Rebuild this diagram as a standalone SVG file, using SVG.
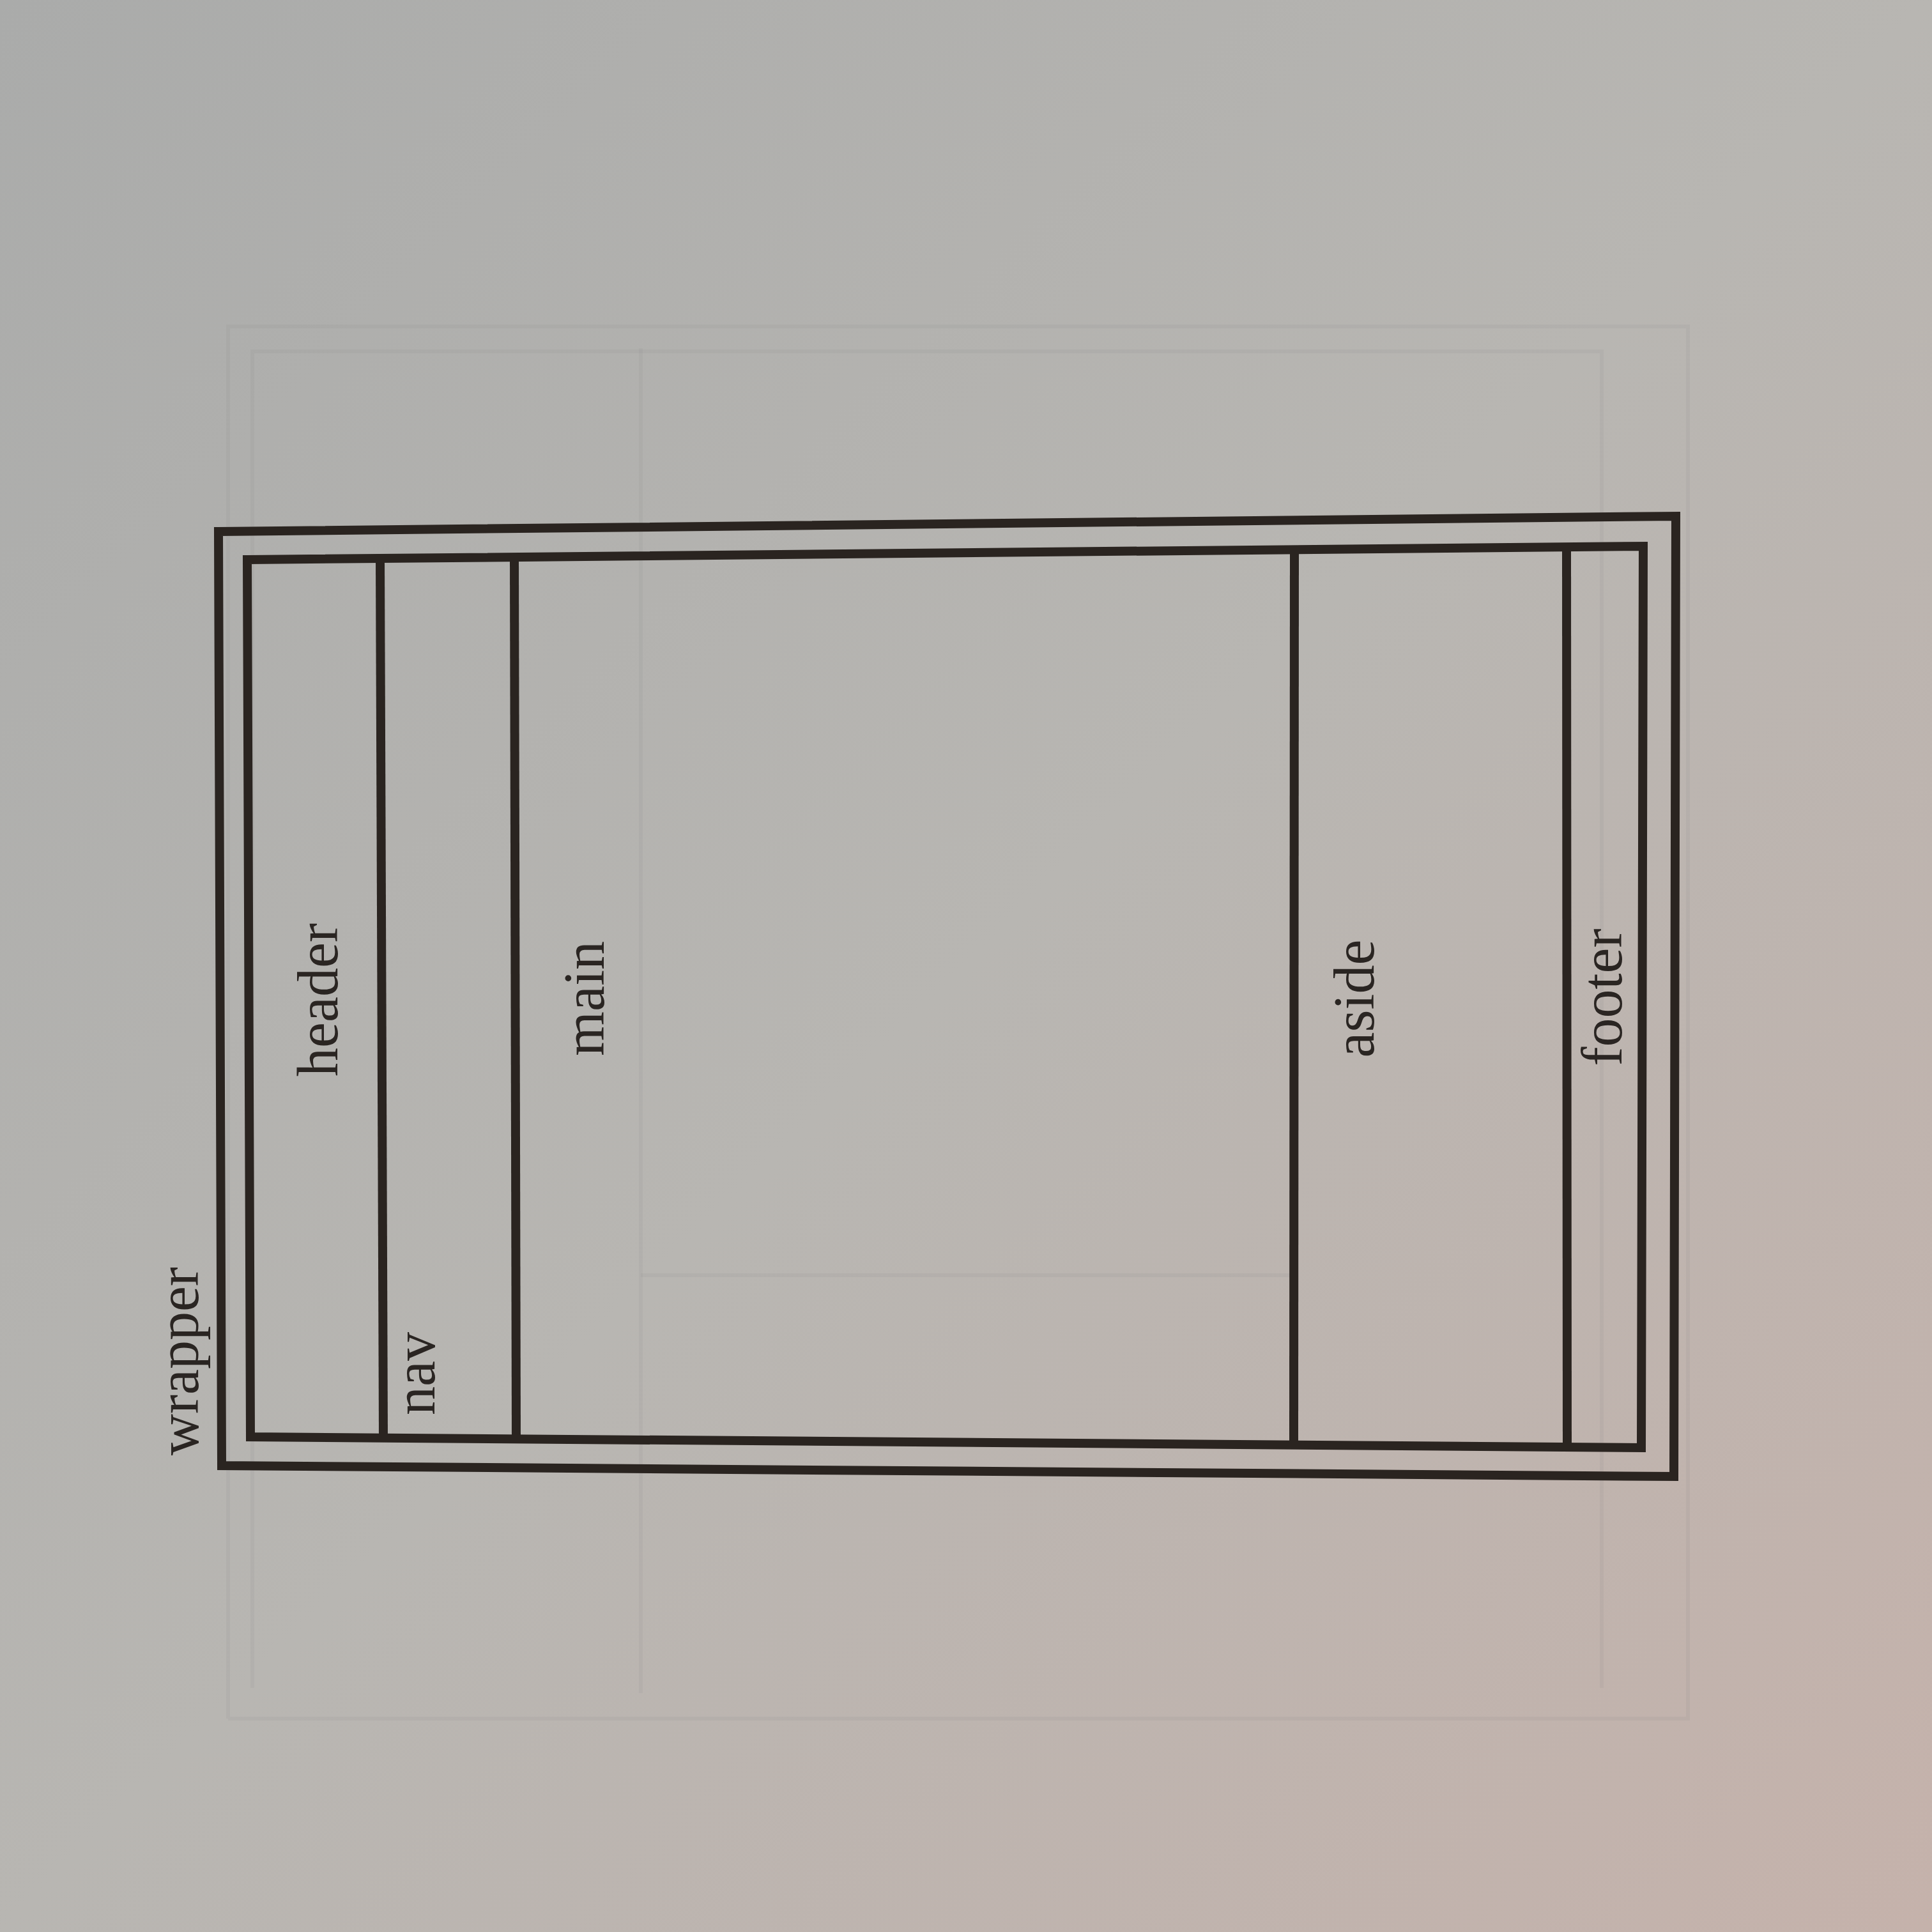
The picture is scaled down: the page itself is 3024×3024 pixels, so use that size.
<svg xmlns="http://www.w3.org/2000/svg" width="3024" height="3024" viewBox="0 0 3024 3024">
  <defs>
    <linearGradient id="paper" x1="0" y1="0" x2="1" y2="1">
      <stop offset="0" stop-color="#aaabaa"/>
      <stop offset="0.5" stop-color="#b8b6b2"/>
      <stop offset="1" stop-color="#c5b2ab"/>
    </linearGradient>
    <style>
      .box { fill: none; stroke: #2a2420; stroke-width: 14; stroke-linejoin: miter; }
      .ghost { fill: none; stroke: #8d8c88; stroke-width: 6; opacity: 0.13; }
      .lbl { font-family: "Liberation Serif", "Times New Roman", serif; font-size: 90px; fill: #2a2522; }
    </style>
  </defs>
  <rect x="0" y="0" width="3024" height="3024" fill="url(#paper)"/>
  <g id="show-through">
    <polyline class="ghost" points="357,2690 357,511 2642,511 2642,2690 357,2690"/>
    <polyline class="ghost" points="395,2642 395,550 2507,550 2507,2642"/>
    <line class="ghost" x1="1003" y1="545" x2="1003" y2="2650"/>
    <line class="ghost" x1="1003" y1="1996" x2="2025" y2="1996"/>
  </g>
  <g id="wrapper">
    <polygon class="box" points="342,832 2623,808 2620,2311 347,2294"/>
    <text class="lbl" transform="translate(310,2278) rotate(-90)">wrapper</text>
  </g>
  <g id="container">
    <polygon class="box" points="387,876 2572,855 2569,2266 392,2249"/>
  </g>
  <g id="header">
    <text class="lbl" text-anchor="middle" transform="translate(528,1565) rotate(-90)">header</text>
  </g>
  <g id="nav">
    <text class="lbl" transform="translate(680,2215) rotate(-90)">nav</text>
  </g>
  <g id="main">
    <text class="lbl" text-anchor="middle" transform="translate(945,1563) rotate(-90)">main</text>
  </g>
  <g id="aside">
    <text class="lbl" text-anchor="middle" transform="translate(2150,1563) rotate(-90)">aside</text>
  </g>
  <g id="footer">
    <text class="lbl" text-anchor="middle" transform="translate(2538,1561) rotate(-90)">footer</text>
  </g>
  <g id="connectors">
    <line class="box" x1="595" y1="874" x2="600" y2="2251"/>
    <line class="box" x1="805" y1="872" x2="808" y2="2252"/>
    <line class="box" x1="2026" y1="860" x2="2025" y2="2262"/>
    <line class="box" x1="2452" y1="856" x2="2453" y2="2265"/>
  </g>
</svg>
